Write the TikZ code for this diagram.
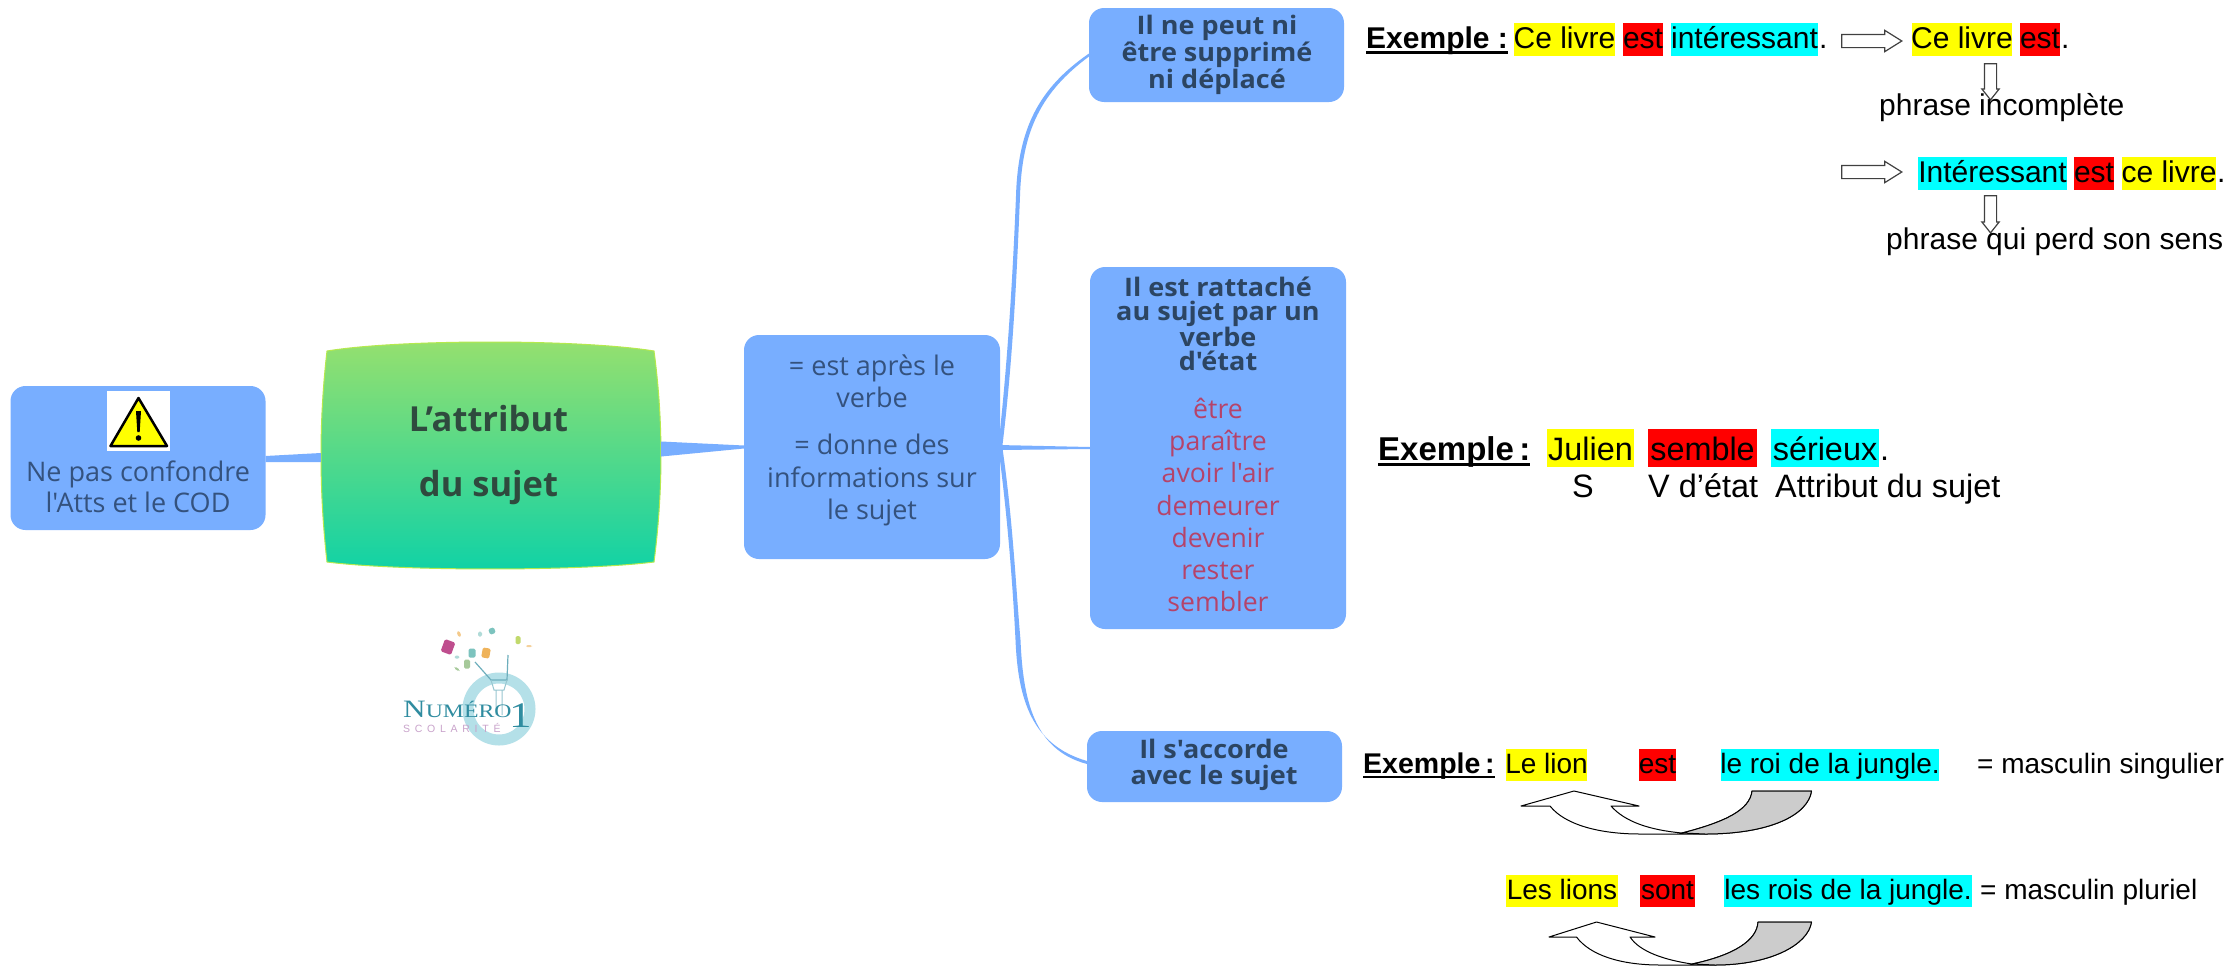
\documentclass[tikz,border=0pt]{standalone}
\usepackage{fontspec}
\setmainfont{Liberation Sans}
\newfontfamily\osans{Open Sans}
\newfontfamily\osansw[FakeStretch=1.06]{Open Sans}
\newfontfamily\logoserif[FakeStretch=1.25]{Liberation Serif}
\newfontfamily\logosans[LetterSpace=45]{Liberation Sans}
\usetikzlibrary{calc,shapes.arrows}
\definecolor{boxblue}{HTML}{78AEFF}
\definecolor{boxtext}{HTML}{34527E}
\definecolor{headtext}{HTML}{2C4562}
\definecolor{verbred}{HTML}{B5436A}
\definecolor{maintext}{HTML}{2F4A3E}
\definecolor{greentop}{HTML}{96E06E}
\definecolor{greenbot}{HTML}{10D2A6}
\definecolor{ringblue}{HTML}{B4E0E8}
\definecolor{logoteal}{HTML}{2F8CA0}
\definecolor{logopink}{HTML}{C9A3CB}
\definecolor{hlyellow}{HTML}{FFFF00}
\definecolor{hlred}{HTML}{FF0000}
\definecolor{hlcyan}{HTML}{00FFFF}
\newcommand\fsz[2]{\fontsize{#1}{#2}\selectfont}
\newcommand\ulx[1]{\setbox0\hbox{#1}\rlap{\rule[-0.19em]{\wd0}{0.1em}}\box0}
\newcommand\hlt[1]{\makebox[0pt]{#1}}
\newcommand\aq{\symbol{39}}
\tikzset{
  bluebox/.style={fill=boxblue,rounded corners=15,inner sep=0,line width=0},
  plain30/.style={anchor=base west,inner sep=0,text=black,font=\fsz{30}{36}},
  plain28/.style={anchor=base west,inner sep=0,text=black,font=\fsz{28}{34}},
  plain32/.style={anchor=base west,inner sep=0,text=black,font=\fsz{32.4}{38}},
  hltop/.style={inner sep=0,minimum height=33,text height=18,text depth=0,font=\fsz{30}{36},text=black},
  hlmid/.style={inner sep=0,minimum height=38,text height=24,text depth=0,font=\fsz{32.4}{38},text=black},
  hllow/.style={inner sep=0,minimum height=32,text height=16,text depth=0,font=\fsz{28}{34},text=black},
  branch/.style={fill=boxblue},
  hollow/.style={single arrow,draw=black!75,fill=white,line width=1.2,inner xsep=0,inner ysep=6,
    single arrow head extend=4,single arrow tip angle=64,minimum width=20},
  hollowdown/.style={single arrow,draw=black!75,fill=white,line width=1.2,inner ysep=0,inner xsep=5.5,
    shape border rotate=270,single arrow head extend=2.5,single arrow tip angle=77,minimum width=16},
  curvearrow/.style={draw=black,fill=white,line width=1,line join=round},
  curvegray/.style={draw=black,fill=black!20,line width=1,line join=round},
  boxhead/.style={inner sep=0,align=center,text=headtext},
  boxbody/.style={inner sep=0,align=center,text=boxtext},
  logochip/.style={inner sep=0,rounded corners=1.5}
}
\begin{document}
\begin{tikzpicture}[x=1pt,y=-1pt]
\useasboundingbox (0,0) rectangle (2234,969);
\fill[white] (0,0) rectangle (2234,969);

% central topic
\path[top color=greentop,bottom color=greenbot,draw=greentop!70!yellow,line width=1]
  (327,351) .. controls (400,339) and (580,339) .. (654,351)
  .. controls (663.3,420) and (663.3,490) .. (654,562)
  .. controls (580,571.3) and (400,571.3) .. (327,562)
  .. controls (319,490) and (319,420) .. (327,351) -- cycle;
\node[inner sep=0,minimum width=340,minimum height=227] (main) at (491,455.5) {};
\node[inner sep=0,align=center,text=maintext,font=\osans\bfseries\fsz{34.5}{65}] (maintitle) at (488.5,455.5) {L’attribut\\du sujet};

% warning box
\node[bluebox,minimum width=255,minimum height=144] (warn) at (138,458) {};
\node[fill=white,inner sep=0,minimum width=63,minimum height=60] (warnicon) at (138.5,421) {};
\fill[hlyellow,draw=black,line width=2.5,line join=round] (138.5,398) -- (167,446) -- (110.5,446) -- cycle;
\fill[black] (136,411) -- (141,411) -- (139.7,432) -- (137.3,432) -- cycle;
\fill[black] (138.5,438) circle [radius=2.8];
\node[boxbody,font=\osans\fsz{27}{31.5}] (warntext) at (138,487) {Ne pas confondre\\l\aq Atts et le COD};

% second-level box
\node[bluebox,minimum width=256,minimum height=224] (mid) at (872,447) {};
\node[boxbody,font=\osans\fsz{27}{32}] (midone) at (872,381) {= est après le\\verbe};
\node[boxbody,font=\osans\fsz{27}{32.5}] (midtwo) at (872,480) {= donne des\\informations sur\\le sujet};

% third-level boxes
\node[bluebox,minimum width=255,minimum height=94] (boxa) at (1216.5,55) {};
\node[boxhead,font=\osansw\bfseries\fsz{25.5}{23.5}] (boxatext) at (1217,55) {Il ne peut ni\\être supprimé\\ni déplacé};
\node[bluebox,minimum width=256,minimum height=362] (boxb) at (1218,448) {};
\node[boxhead,font=\osansw\bfseries\fsz{25.5}{23.8}] (boxbhead) at (1218,324) {Il est rattaché\\au sujet par un\\verbe\\d\aq état};
\node[inner sep=0,align=center,text=verbred,font=\osans\fsz{26.6}{32.3}] (boxblist) at (1218,505) {être\\paraître\\avoir l\aq air\\demeurer\\devenir\\rester\\sembler};
\node[bluebox,minimum width=255,minimum height=71] (boxc) at (1214.5,766.5) {};
\node[boxhead,font=\osansw\bfseries\fsz{25.5}{26}] (boxctext) at (1214,765) {Il s\aq accorde\\avec le sujet};

% connectors
\coordinate (wa) at (1018,196);
\coordinate (wc) at (1018,640);
\fill[branch] ($(warn.east)+(0,-2)$) -- ($(main.west)+(0,-2.5)$) -- ($(main.west)+(0,6.5)$) -- ($(warn.east)+(0,4)$) -- cycle;
\fill[branch] ($(main.east)+(0,-14)$) -- ($(mid.west)+(0,-1.5)$) -- ($(mid.west)+(0,1.5)$) -- ($(main.east)+(0,1)$) -- cycle;
\fill[branch] ($(mid.east)+(-2,2)$) .. controls (1008,360) and (1013,270) .. ($(wa)+(-2,0)$)
  .. controls (1018,128) and (1039,88) .. ($(boxa.west)+(0,-1.5)$)
  -- ($(boxa.west)+(0,1.5)$) .. controls (1041,92) and (1022,131) .. ($(wa)+(2,0)$)
  .. controls (1017,270) and (1013,360) .. ($(mid.east)+(2,2)$) -- cycle;
\fill[branch] ($(mid.east)+(-2,-2)$) -- ($(boxb.west)+(0,-1)$) -- ($(boxb.west)+(0,1)$) -- ($(mid.east)+(-2,3)$) -- cycle;
\fill[branch] ($(mid.east)+(-2,-2)$) .. controls (1008,520) and (1013,590) .. ($(wc)+(-2.5,0)$)
  .. controls (1018,700) and (1032,745) .. ($(boxc.west)+(0,-5.5)$)
  -- ($(boxc.west)+(0,-2.5)$) .. controls (1034,750) and (1023,700) .. ($(wc)+(2.5,0)$)
  .. controls (1016,590) and (1013,520) .. ($(mid.east)+(2,-2)$) -- cycle;

% example 1
\node[plain30,font=\bfseries\fsz{30}{36}] (exa) at (1366,48) {\ulx{Exemple :}};
\node[hltop,fill=hlyellow,minimum width=101] (a1) at (1564.5,39) {\hlt{Ce livre}};
\node[hltop,fill=hlred,minimum width=40] (a2) at (1643,39) {\hlt{est}};
\node[hltop,fill=hlcyan,minimum width=147] (a3) at (1744.5,39) {\hlt{intéressant}};
\node[plain30] (a4) at (1819,48) {.};
\node[hollow,minimum height=60] (arra1) at (1866.5,41) {};
\node[hltop,fill=hlyellow,minimum width=100] (a5) at (1962,39) {\hlt{Ce livre}};
\node[hltop,fill=hlred,minimum width=40] (a6) at (2040,39) {\hlt{est}};
\node[plain30] (a7) at (2061,48) {.};
\node[hollowdown,minimum height=36] (arrd1) at (1990.5,78) {};
\node[plain30] (a8) at (1879,115) {phrase incomplète};
\node[hollow,minimum height=60] (arra2) at (1866.5,172) {};
\node[hltop,fill=hlcyan,minimum width=149.5] (a9) at (1992.5,173.5) {\hlt{Intéressant}};
\node[hltop,fill=hlred,minimum width=40] (a10) at (2094,173.5) {\hlt{est}};
\node[hltop,fill=hlyellow,minimum width=94] (a11) at (2169,173.5) {\hlt{ce livre}};
\node[plain30] (a12) at (2217,182) {.};
\node[hollowdown,minimum height=37] (arrd2) at (1990.5,210.5) {};
\node[plain30] (a13) at (1886,249) {phrase qui perd son sens};

% example 2
\node[plain32,font=\bfseries\fsz{33}{38}] (exb) at (1378,460) {\ulx{Exemple\,:}};
\node[hlmid,fill=hlyellow,minimum width=87.5] (b1) at (1590.5,448) {\hlt{Julien}};
\node[hlmid,fill=hlred,minimum width=109] (b2) at (1702.5,448) {\hlt{semble}};
\node[hlmid,fill=hlcyan,minimum width=108] (b3) at (1825,448) {\hlt{sérieux}};
\node[plain32] (b4) at (1880,460) {.};
\node[plain32,anchor=base] (b5) at (1583,497) {S};
\node[plain32] (b6) at (1648,497) {V d\aq état};
\node[plain32] (b7) at (1775,497) {Attribut du sujet};

% example 3
\node[plain30,font=\bfseries\fsz{28.5}{34}] (exc) at (1363,773) {\ulx{Exemple\,:}};
\node[hllow,fill=hlyellow,minimum width=81] (c1) at (1546.5,765) {\hlt{Le lion}};
\node[hllow,fill=hlred,minimum width=37] (c2) at (1657.5,765) {\hlt{est}};
\node[hllow,fill=hlcyan,minimum width=218] (c3) at (1830,765) {\hlt{le roi de la jungle.}};
\node[plain28] (c4) at (1977,773) {= masculin singulier};
\node[hllow,fill=hlyellow,minimum width=112] (c5) at (1562,891) {\hlt{Les lions}};
\node[hllow,fill=hlred,minimum width=55] (c6) at (1667.5,891) {\hlt{sont}};
\node[hllow,fill=hlcyan,minimum width=248] (c7) at (1848,891) {\hlt{les rois de la jungle.}};
\node[plain28] (c8) at (1980,899) {= masculin pluriel};

% curved arrows
\path[curvearrow] (1574,791) -- (1639,806) -- (1611,806)
  .. controls (1625,822) and (1650,830) .. (1682,833)
  .. controls (1725,822) and (1750,810) .. (1752,791) -- (1811.5,791)
  .. controls (1808,815) and (1770,834) .. (1705,834) -- (1640,834)
  .. controls (1600,834) and (1565,825) .. (1550,806) -- (1521,806) -- cycle;
\path[curvegray] (1682,833) .. controls (1725,822) and (1750,810) .. (1752,791) -- (1811.5,791)
  .. controls (1808,815) and (1770,834) .. (1705,834) -- cycle;
\path[curvearrow] (1596.5,922) -- (1655,937) -- (1630,937)
  .. controls (1640,952) and (1665,960) .. (1692,964)
  .. controls (1735,955) and (1757,940) .. (1758,922) -- (1811.5,922)
  .. controls (1808,945) and (1770,965) .. (1715,965) -- (1660,965)
  .. controls (1620,965) and (1590,955) .. (1576.5,937) -- (1549,937) -- cycle;
\path[curvegray] (1692,964) .. controls (1735,955) and (1757,940) .. (1758,922) -- (1811.5,922)
  .. controls (1808,945) and (1770,965) .. (1715,965) -- cycle;

% logo
\draw[ringblue,line width=11] (499,709) circle [radius=31];
\draw[logoteal!70,line width=1.2] (475,662) -- (491,680) -- (507,680) -- (508,655);
\draw[logoteal!50,line width=1] (491,680) -- (494,690) -- (504,690) -- (507,680)
  (496,690) -- (496,715) (502,690) -- (502,715);
\definecolor{chipa}{HTML}{BF4E8E}
\definecolor{chipb}{HTML}{7CC3BE}
\definecolor{chipc}{HTML}{EFB35A}
\definecolor{chipd}{HTML}{A6C99A}
\node[logochip,fill=chipa,rotate=-20,minimum width=11,minimum height=13] (chip1) at (448,647) {};
\node[logochip,fill=chipb,minimum width=7,minimum height=9] (chip2) at (472,653) {};
\node[logochip,fill=chipc,minimum width=8,minimum height=10,rotate=-10] (chip3) at (486,653) {};
\node[logochip,fill=chipd,minimum width=6,minimum height=9] (chip4) at (467,664) {};
\node[logochip,fill=chipb,minimum width=6,minimum height=6,rotate=20] (chip5) at (492,631) {};
\node[logochip,fill=chipd!70!yellow,minimum width=5,minimum height=8] (chip6) at (518,640) {};
\node[logochip,fill=chipc!70,minimum width=3,minimum height=6,rotate=20] (chip7) at (459,634) {};
\node[logochip,fill=chipb!60,minimum width=4,minimum height=5] (chip8) at (480,634) {};
\node[logochip,fill=chipc!60,minimum width=6,minimum height=2] (chip9) at (529,646) {};
\node[logochip,fill=chipd,minimum width=6,minimum height=2,rotate=-35] (chip10) at (457,669) {};
\node[logochip,fill=chipb!60,minimum width=5,minimum height=3] (chip11) at (457,657) {};
\node[anchor=base west,inner sep=0,text=logoteal,font=\logoserif\fsz{25}{25}] (logoname) at (403,717) {N\fsz{19}{19}UMÉRO};
\node[anchor=base west,inner sep=0,text=logoteal,font=\logoserif\fsz{36}{36}] (logoone) at (509,727) {1};
\node[anchor=base west,inner sep=0,text=logopink,font=\logosans\fsz{10.5}{10.5}] (logosub) at (403,732) {SCOLARITÉ};
\end{tikzpicture}
\end{document}
